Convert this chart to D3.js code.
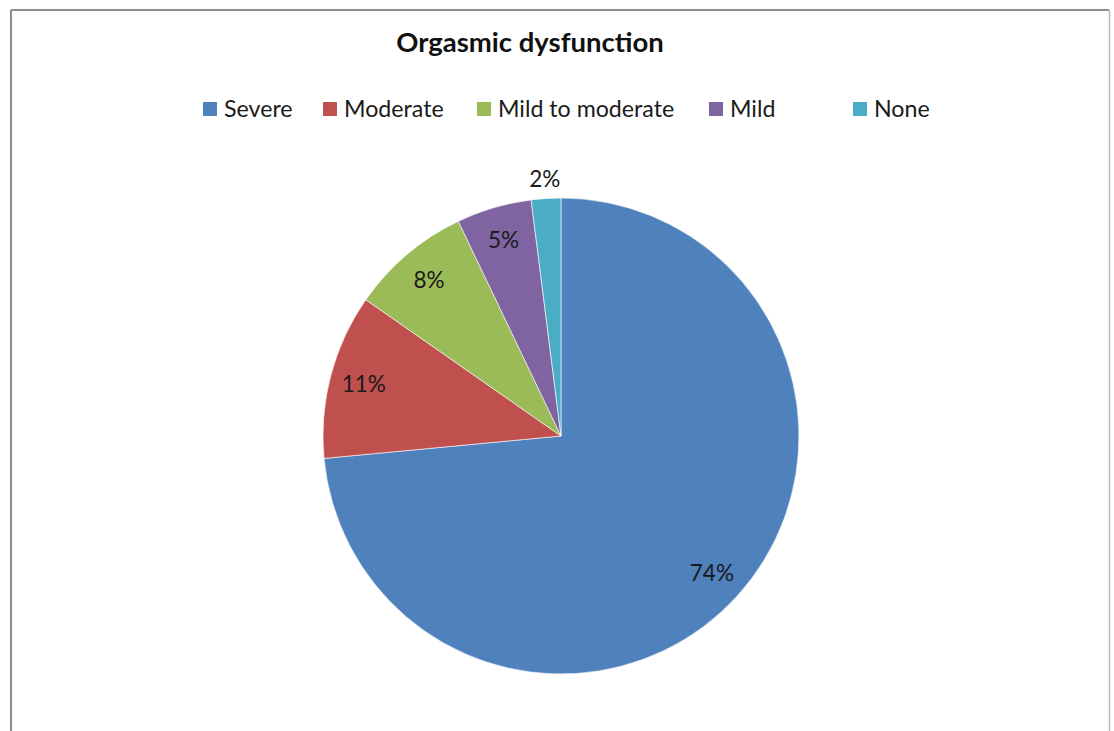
<!DOCTYPE html>
<html>
<head>
<meta charset="utf-8">
<script src="https://cdn.jsdelivr.net/npm/d3@7"></script>
<style>
	body { margin: 0; background: #fff; }
	svg { display: block; }
	text { font-family: Lato, "Open Sans", sans-serif; }
</style>
</head>
<body>
<svg id="canvas" width="1114" height="731"></svg>
<script>
// data (share of patients, %)
const categories = ["Severe", "Moderate", "Mild to moderate", "Mild", "None"];
const shares = [73.5, 11.2, 8.2, 5.1, 2.0];
const shareLabels = ["74%", "11%", "8%", "5%", "2%"];
const colors = ["#4f81bd", "#c0504d", "#9bbb59", "#8064a2", "#4bacc6"];

// legend x spots, Excel spaces them unevenly
const legendX = [203, 323, 477, 709, 853];

const width = 1114, height = 731;
const cx = 561, cy = 436, r = 238;

const svg = d3.select("#canvas");

// chart frame
svg.append("line").attr("x1", 11).attr("y1", 10).attr("x2", 1109).attr("y2", 10)
	.attr("stroke", "#8c8c8c").attr("stroke-width", 2);
svg.append("line").attr("x1", 11).attr("y1", 10).attr("x2", 11).attr("y2", height)
	.attr("stroke", "#8c8c8c").attr("stroke-width", 2);
svg.append("line").attr("x1", 1109.5).attr("y1", 10).attr("x2", 1109.5).attr("y2", height)
	.attr("stroke", "#b8b8b8").attr("stroke-width", 1.5);

svg.append("text")
	.attr("x", 530).attr("y", 52)
	.attr("text-anchor", "middle")
	.attr("font-weight", "bold")
	.attr("font-size", 27.5)
	.attr("fill", "#111")
	.text("Orgasmic dysfunction");

const color = d3.scaleOrdinal().domain(categories).range(colors);

const data = categories.map((c, i) => ({ name: c, value: shares[i], label: shareLabels[i] }));

const pie = d3.pie().sort(null).value(d => d.value);
const arc = d3.arc().innerRadius(0).outerRadius(r);
const labelArc = d3.arc().innerRadius(204).outerRadius(204);
const outerArc = d3.arc().innerRadius(257).outerRadius(257);

const g = svg.append("g").attr("transform", "translate(" + cx + "," + cy + ")");
const arcs = pie(data);

g.selectAll("path")
	.data(arcs)
	.enter().append("path")
	.attr("d", arc)
	.attr("fill", d => color(d.data.name))
	.attr("stroke", "#fff")
	.attr("stroke-width", 0.6);

// small slices get their label outside (Excel best fit)
g.selectAll("text.lbl")
	.data(arcs)
	.enter().append("text")
	.attr("class", "lbl")
	.attr("transform", d => {
		const p = (d.endAngle - d.startAngle) < 0.2 ? outerArc.centroid(d) : labelArc.centroid(d);
		return "translate(" + p + ")";
	})
	.attr("text-anchor", "middle")
	.attr("dy", "0.35em")
	.attr("font-size", 22.5)
	.attr("fill", "#1a1a1a")
	.text(d => d.data.label);

const legend = svg.selectAll("g.leg")
	.data(categories)
	.enter().append("g")
	.attr("class", "leg")
	.attr("transform", (d, i) => "translate(" + legendX[i] + ",102)");

legend.append("rect")
	.attr("width", 14).attr("height", 14)
	.attr("fill", d => color(d));

legend.append("text")
	.attr("x", 21).attr("y", 15)
	.attr("font-size", 23.2)
	.attr("fill", "#1a1a1a")
	.text(d => d);
</script>
</body>
</html>
